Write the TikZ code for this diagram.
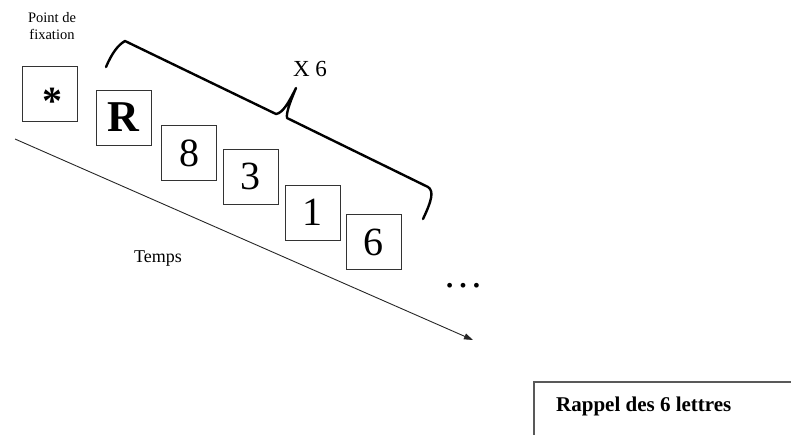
\documentclass[tikz,border=0pt]{standalone}
\usepackage{fontspec}
\setmainfont{Liberation Serif}
\usetikzlibrary{arrows.meta}
\begin{document}
\begin{tikzpicture}[x=1pt,y=-1pt,
  stim/.style={draw=black!80, line width=1pt, minimum width=55pt, minimum height=55pt, inner sep=0pt, font=\fontsize{40}{40}\selectfont},
  lbl/.style={inner sep=0pt, align=center},
  brace/.style={line width=2.4pt, line join=round, line cap=round},
  timeline/.style={draw=black!85, line width=0.9pt, -{Triangle[length=9pt,width=6pt]}}]
\useasboundingbox (0,0) rectangle (791,434);
\node[lbl, font=\fontsize{14.5}{17}\selectfont] (pf) at (52,26) {Point de\\fixation};
\node[stim] (s0) at (49.5,94) {};
\node[lbl, font=\fontsize{40}{40}\selectfont\bfseries] (star) at (52,101) {*};
\node[stim, font=\fontsize{44}{44}\selectfont\bfseries] (s1) at (123.5,117.5) {R};
\node[stim] (s2) at (189,153) {8};
\node[stim] (s3) at (250.5,176.5) {3};
\node[stim] (s4) at (312.5,212.5) {1};
\node[stim] (s5) at (373.5,242) {6};
\node[lbl, font=\fontsize{40}{40}\selectfont] (dots) at (463,286) {…};
\node[lbl, font=\fontsize{18}{18}\selectfont] (temps) at (158,259) {Temps};
\node[lbl, font=\fontsize{23}{23}\selectfont] (x6) at (310,69) {X 6};
\coordinate (t0) at (15,139);
\coordinate (t1) at (473,340);
\draw[timeline] (t0) -- (t1);
\coordinate (b0) at (106,67);
\coordinate (b1) at (125,41);
\coordinate (b2) at (276,114);
\coordinate (b3) at (296,88);
\coordinate (b4) at (287,118);
\coordinate (b5) at (428,187);
\coordinate (b6) at (423,219);
\draw[brace] (b0) .. controls (112,53) and (118,45) .. (b1) -- (b2)
  .. controls (283,113) and (289,102) .. (b3)
  .. controls (291,100) and (286,112) .. (b4) -- (b5)
  .. controls (434,191) and (432,200) .. (b6);
\draw[draw=black!65, line width=2pt] (534,382) rectangle (830,480);
\node[anchor=base west, inner sep=0pt, font=\fontsize{21}{21}\selectfont\bfseries] (rappel) at (556,411) {Rappel des 6 lettres};
\end{tikzpicture}
\end{document}
